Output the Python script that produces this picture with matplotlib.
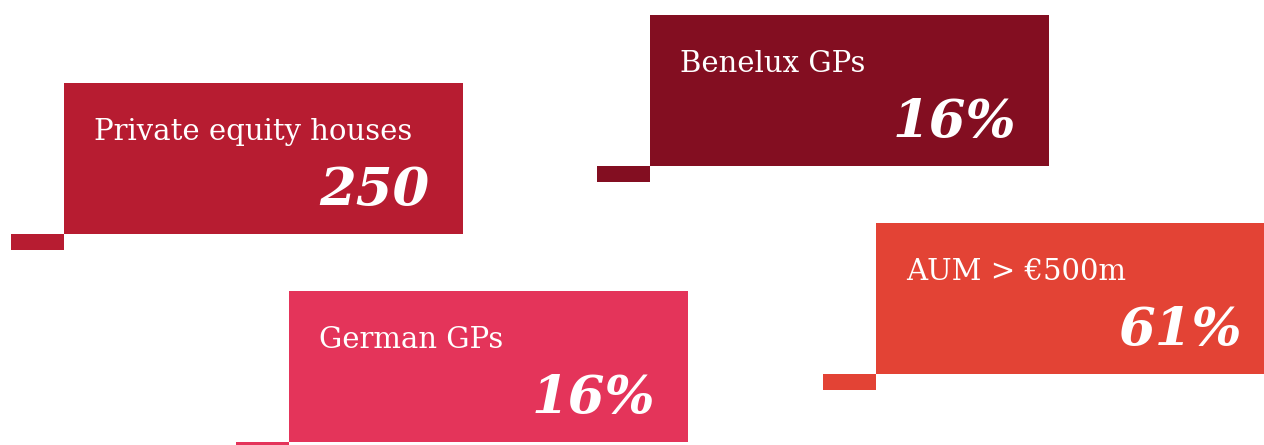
import matplotlib
matplotlib.use("Agg")
import matplotlib.pyplot as plt
from matplotlib.patches import Rectangle

# Data
labels = ["Private equity houses", "Benelux GPs", "German GPs", "AUM > €500m"]
values = ["250", "16%", "16%", "61%"]
colors = ["#B71C31", "#830E21", "#E4345A", "#E34335"]

# Layout (pixels, top-left origin): box left, top, width, height
box_x = [64, 650, 289, 876]
box_y = [83, 15, 291, 223]
BOX_W, BOX_H = 399, 151
TAB_W, TAB_H = 53, 16

W, H = 1264, 445
fig = plt.figure(figsize=(W / 100, H / 100), dpi=100)
ax = fig.add_axes([0, 0, 1, 1])
ax.set_xlim(0, W)
ax.set_ylim(H, 0)
ax.axis("off")

for lab, val, col, x, y in zip(labels, values, colors, box_x, box_y):
    ax.add_patch(Rectangle((x, y), BOX_W, BOX_H, facecolor=col, edgecolor="none"))
    ax.add_patch(Rectangle((x - TAB_W, y + BOX_H), TAB_W, TAB_H, facecolor=col, edgecolor="none"))
    ax.text(x + 30, y + 57, lab, color="white", fontsize=21,
            family="DejaVu Serif", ha="left", va="baseline")
    ax.text(x + BOX_W - 33, y + 122, val, color="white", fontsize=38,
            family="DejaVu Serif", weight="bold", style="italic",
            ha="right", va="baseline")

fig.savefig("out.png", dpi=100)
